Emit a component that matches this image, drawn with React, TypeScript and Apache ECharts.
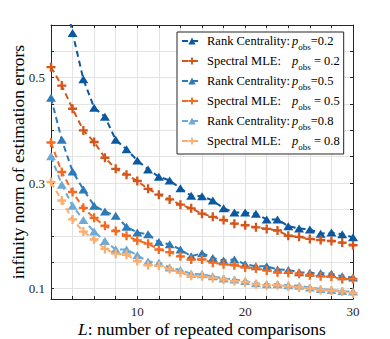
import React, { useEffect, useRef } from "react";
import * as echarts from "echarts";

const L = [2, 3, 4, 5, 6, 7, 8, 9, 10, 11, 12, 13, 14, 15, 16, 17, 18, 19, 20, 21, 22, 23, 24, 25, 26, 27, 28, 29, 30];

const rc02 = [0.85, 0.68, 0.585, 0.497, 0.443, 0.426, 0.382, 0.364, 0.343, 0.326, 0.312, 0.305, 0.29, 0.276, 0.275, 0.267, 0.252, 0.244, 0.244, 0.242, 0.231, 0.231, 0.218, 0.214, 0.212, 0.204, 0.206, 0.203, 0.197];
const sm02 = [0.52, 0.485, 0.441, 0.4, 0.378, 0.348, 0.327, 0.316, 0.304, 0.289, 0.278, 0.269, 0.259, 0.252, 0.242, 0.236, 0.23, 0.223, 0.22, 0.216, 0.213, 0.21, 0.2, 0.198, 0.194, 0.192, 0.19, 0.187, 0.182];
const rc05 = [0.462, 0.382, 0.322, 0.288, 0.257, 0.246, 0.238, 0.217, 0.206, 0.203, 0.188, 0.184, 0.174, 0.161, 0.167, 0.158, 0.153, 0.155, 0.146, 0.142, 0.142, 0.136, 0.135, 0.131, 0.13, 0.129, 0.128, 0.123, 0.121];
const sm05 = [0.377, 0.321, 0.283, 0.253, 0.234, 0.219, 0.209, 0.2, 0.191, 0.185, 0.174, 0.169, 0.161, 0.155, 0.155, 0.149, 0.146, 0.144, 0.14, 0.138, 0.134, 0.131, 0.13, 0.128, 0.125, 0.123, 0.122, 0.118, 0.118];
const rc08 = [0.351, 0.297, 0.257, 0.23, 0.208, 0.19, 0.174, 0.174, 0.163, 0.151, 0.149, 0.14, 0.135, 0.128, 0.127, 0.123, 0.119, 0.117, 0.114, 0.11, 0.108, 0.108, 0.106, 0.105, 0.102, 0.099, 0.097, 0.095, 0.094];
const sm08 = [0.302, 0.267, 0.231, 0.208, 0.193, 0.175, 0.166, 0.164, 0.152, 0.144, 0.143, 0.137, 0.13, 0.124, 0.123, 0.12, 0.117, 0.114, 0.112, 0.108, 0.106, 0.106, 0.104, 0.102, 0.1, 0.097, 0.096, 0.094, 0.091];

const yLabels = [0.1, 0.3, 0.5];
const xLabels = [10, 20, 30];

const PLUS = "path://M3.7,0H6.3V3.7H10V6.3H6.3V10H3.7V6.3H0V3.7H3.7Z";
const FONT = "Liberation Serif";

const defs = [
  { method: "Rank Centrality", p: "0.2", values: rc02, color: "#0a58a0", tri: true },
  { method: "Spectral MLE", p: "0.2", values: sm02, color: "#d4561a", tri: false },
  { method: "Rank Centrality", p: "0.5", values: rc05, color: "#2c7bb8", tri: true },
  { method: "Spectral MLE", p: "0.5", values: sm05, color: "#f26b21", tri: false },
  { method: "Rank Centrality", p: "0.8", values: rc08, color: "#6eaad8", tri: true },
  { method: "Spectral MLE", p: "0.8", values: sm08, color: "#fcae70", tri: false },
];

export default function App() {
  const ref = useRef<HTMLDivElement>(null);
  useEffect(() => {
    if (!ref.current) return;
    const chart = echarts.init(ref.current, undefined, { renderer: "svg" });
    const axisColor = "#262626";
    const gridColor = "#e3e3e3";
    chart.setOption({
      animation: false,
      backgroundColor: "#ffffff",
      grid: { left: 51, right: 37, top: 25, bottom: 40, show: false, containLabel: false, outerBoundsMode: "none" },
      legend: {
        orient: "vertical",
        left: 177,
        top: 32,
        padding: [0, 4, 3, 4],
        itemGap: 1,
        itemWidth: 20,
        itemHeight: 9,
        backgroundColor: "#ffffff",
        borderColor: axisColor,
        borderWidth: 1,
        data: defs.map((d) => d.method + ": p_obs=" + d.p),
        formatter: (name: string) => {
          const d = defs.find((x) => x.method + ": p_obs=" + x.p === name)!;
          const tail = d.tri ? "=" + d.p : " = " + d.p;
          return "{n|" + d.method + ":}{p|p}{s|obs}{v|" + tail + "}";
        },
        textStyle: {
          fontFamily: FONT,
          fontSize: 12.5,
          color: "#000",
          rich: {
            n: { fontFamily: FONT, fontSize: 12.5, width: 85, lineHeight: 20, color: "#000" },
            p: { fontFamily: FONT, fontSize: 12.5, fontStyle: "italic", lineHeight: 20, color: "#000" },
            s: { fontFamily: FONT, fontSize: 9, lineHeight: 10, padding: [10, 0, 0, 0], verticalAlign: "bottom", color: "#000" },
            v: { fontFamily: FONT, fontSize: 12.5, lineHeight: 20, color: "#000" },
          },
        },
      },
      xAxis: [
        {
          type: "value",
          min: 2,
          max: 30,
          interval: 2,
          name: "{i|L}: number of repeated comparisons",
          nameLocation: "middle",
          nameGap: 21,
          nameMoveOverlap: false,
          nameTextStyle: {
            fontFamily: FONT,
            fontSize: 17.5,
            lineHeight: 17,
            color: "#000",
            rich: { i: { fontFamily: FONT, fontSize: 17.5, lineHeight: 17, fontStyle: "italic", color: "#000" } },
          },
          axisLine: { show: true, lineStyle: { color: axisColor, width: 1 } },
          axisTick: { show: true, inside: true, length: 3, lineStyle: { color: axisColor } },
          axisLabel: {
            fontFamily: FONT,
            fontSize: 13,
            color: "#262626",
            margin: 6,
            formatter: (v: number) => (xLabels.some((t) => Math.abs(t - v) < 1e-6) ? String(v) : ""),
          },
          splitLine: { show: true, lineStyle: { color: gridColor, width: 1 } },
        },
        {
          type: "value",
          position: "top",
          min: 2,
          max: 30,
          interval: 2,
          axisLine: { show: true, lineStyle: { color: axisColor, width: 1 } },
          axisTick: { show: true, inside: true, length: 3, lineStyle: { color: axisColor } },
          axisLabel: { show: false },
          splitLine: { show: false },
        },
      ],
      yAxis: [
        {
          type: "value",
          min: 0.08,
          max: 0.6,
          splitNumber: 10,
          name: "infinity norm of estimation errors",
          nameLocation: "middle",
          nameGap: 24,
          nameMoveOverlap: false,
          nameTextStyle: { fontFamily: FONT, fontSize: 17.5, color: "#000" },
          axisLine: { show: true, lineStyle: { color: axisColor, width: 1 } },
          axisTick: { show: true, inside: true, length: 3, lineStyle: { color: axisColor } },
          axisLabel: {
            fontFamily: FONT,
            fontSize: 13,
            color: "#262626",
            margin: 6,
            showMinLabel: false,
            formatter: (v: number) => {
              const t = yLabels.find((u) => Math.abs(u - v) < 1e-6);
              return t !== undefined ? String(t) : "";
            },
          },
          splitLine: { show: true, lineStyle: { color: gridColor, width: 1 } },
        },
        {
          type: "value",
          position: "right",
          min: 0.08,
          max: 0.6,
          splitNumber: 10,
          axisLine: { show: true, lineStyle: { color: axisColor, width: 1 } },
          axisTick: { show: true, inside: true, length: 3, lineStyle: { color: axisColor } },
          axisLabel: { show: false },
          splitLine: { show: false },
        },
      ],
      series: defs.map((d) => ({
        type: "line",
        name: d.method + ": p_obs=" + d.p,
        xAxisIndex: 0,
        yAxisIndex: 0,
        data: L.map((x, i) => [x, d.values[i]]),
        symbol: d.tri ? "triangle" : PLUS,
        symbolSize: d.tri ? [10, 8] : 9,
        showAllSymbol: true,
        clip: true,
        color: d.color,
        itemStyle: { color: d.color },
        lineStyle: { color: d.color, width: 2, type: [6, 4] },
      })),
    });
    return () => chart.dispose();
  }, []);
  return (
    <div
      ref={ref}
      style={{ position: "fixed", left: 0, top: 0, width: 390, height: 339 }}
    />
  );
}
